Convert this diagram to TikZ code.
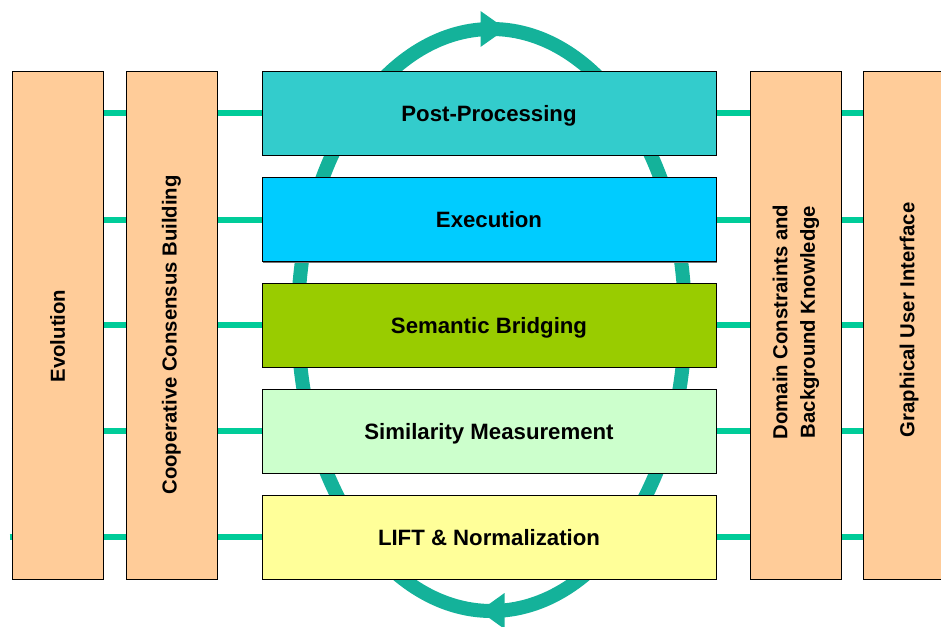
\documentclass[tikz,border=0pt]{standalone}
\usepackage{fontspec}
\setmainfont{Liberation Sans}
\usetikzlibrary{shadows,backgrounds}

\definecolor{peach}{HTML}{FFCC99}
\definecolor{postc}{HTML}{33CCCC}
\definecolor{execc}{HTML}{00CCFF}
\definecolor{semc}{HTML}{99CC00}
\definecolor{simc}{HTML}{CCFFCC}
\definecolor{liftc}{HTML}{FFFF99}
\definecolor{linkc}{HTML}{00CC99}
\definecolor{cyclec}{HTML}{14B29A}

\tikzset{
  boxshadow/.style={drop shadow={shadow xshift=1.3pt, shadow yshift=-1.3pt, fill=black!55, opacity=1}},
  layer/.style={draw=black, line width=0.9pt, boxshadow, inner sep=0pt,
    minimum width=454pt, minimum height=84pt, text depth=0pt,
    font=\fontsize{22.2}{26}\selectfont\bfseries},
  pillar/.style={draw=black, line width=0.9pt, boxshadow, fill=peach, inner sep=0pt,
    minimum width=91pt, minimum height=508pt},
  pillartext/.style={rotate=90, align=center, inner sep=0pt,
    font=\fontsize{20.3}{27.5}\selectfont\bfseries},
  link/.style={draw=linkc, line width=6pt},
  cycleline/.style={draw=cyclec, line width=14pt},
  cyclehead/.style={fill=cyclec, draw=none}
}

\begin{document}
\begin{tikzpicture}[x=1pt, y=-1pt]
\useasboundingbox (0,0) rectangle (941,626);
\clip (0,0) rectangle (941,626);

% row centres of the processing layers and centre of the cycle
\coordinate (r1) at (489,113);
\coordinate (r2) at (489,219.5);
\coordinate (r3) at (489,325);
\coordinate (r4) at (489,431);
\coordinate (r5) at (489,537);
\coordinate (cyc) at (491.5,320);

% side pillars
\node[pillar] (evo)  at (57.5,325)  {};
\node[pillar] (coop) at (171.5,325) {};
\node[pillar] (dom)  at (795.5,325) {};
\node[pillar] (gui)  at (908.5,325) {};

\node[pillartext] (evoT)  at (57.5,336)  {Evolution};
\node[pillartext] (coopT) at (171.5,335) {Cooperative Consensus Building};
\node[pillartext] (domT)  at (796,322)   {Domain Constraints and\\Background Knowledge};
\node[pillartext] (guiT)  at (909,320)   {Graphical User Interface};

% horizontal links running behind all the columns
\begin{pgfonlayer}{background}
\path[link] (evo.west |- r1) -- (gui.east |- r1);
\path[link] (evo.west |- r2) -- (gui.east |- r2);
\path[link] (evo.west |- r3) -- (gui.east |- r3);
\path[link] (evo.west |- r4) -- (gui.east |- r4);
\path[link] ([xshift=-2pt]evo.west |- r5) -- (gui.east |- r5);
\end{pgfonlayer}

% processing cycle behind the layers
\path[cycleline] (cyc) ellipse [x radius=193.5pt, y radius=291pt];
\path[cyclehead] ([shift={(14.5,-291)}]cyc) -- ([shift={(-11,-309)}]cyc)
  -- ([shift={(-11,-273)}]cyc) -- cycle;
\path[cyclehead] ([shift={(-12,291)}]cyc) -- ([shift={(13,273)}]cyc)
  -- ([shift={(13,309)}]cyc) -- cycle;

% the processing layers
\node[layer, fill=postc] (post) at (r1) {Post-Processing};
\node[layer, fill=execc] (exec) at (r2) {Execution};
\node[layer, fill=semc]  (sem)  at (r3) {Semantic Bridging};
\node[layer, fill=simc]  (sim)  at (r4) {Similarity Measurement};
\node[layer, fill=liftc] (lift) at (r5) {LIFT \& Normalization};
\end{tikzpicture}
\end{document}
